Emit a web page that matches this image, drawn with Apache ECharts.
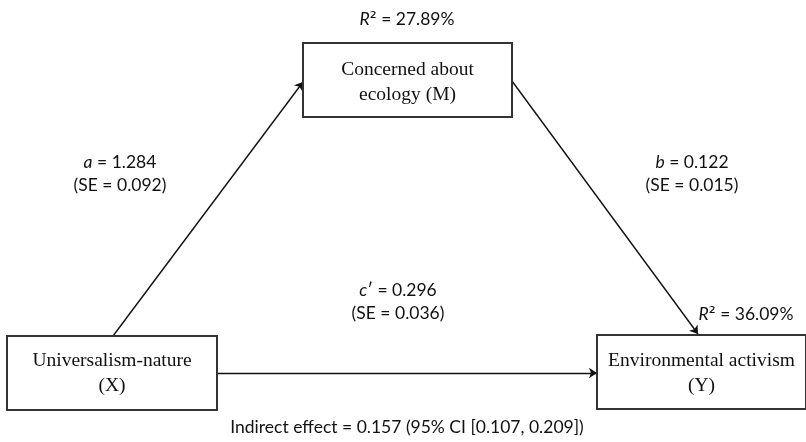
<!DOCTYPE html>
<html>
<head>
<meta charset="utf-8">
<script src="https://cdn.jsdelivr.net/npm/echarts@6/dist/echarts.min.js"></script>
<style>
  html, body { margin: 0; padding: 0; background: #fff; }
  #chart { width: 806px; height: 442px; }
</style>
</head>
<body>
<div id="chart"></div>
<script>
// Mediation model: Universalism-nature -> Concerned about ecology -> Environmental activism
const nodeLines = [
  ['Universalism-nature', '(X)'],
  ['Concerned about', 'ecology (M)'],
  ['Environmental activism', '(Y)']
];
const pathNames = ['a', 'b', 'c'];
const pathPrimes = ['', '', '′'];
const pathCoef = [1.284, 0.122, 0.296];
const pathSE = [0.092, 0.015, 0.036];
const rSquared = [27.89, 36.09];          // M, Y
const indirectEffect = 0.157;
const indirectCI = [0.107, 0.209];

// Diagram layout in plot units (x: 0..806, y: 0..442 downward)
const layout = {
  boxes: [[7, 336, 217, 410], [303, 43, 512, 117], [597, 335, 806, 409]],
  boxTextShift: [0, 2, 1],
  arrows: [
    [[113, 336], [303, 82]],   // a : X -> M
    [[512, 81], [698, 334]],   // b : M -> Y
    [[217, 373], [597, 373]]   // c': X -> Y
  ],
  pathLabelPos: [[120, 174], [692, 174], [398, 302]],
  rSquaredPos: [[407, 19], [746, 314]],
  indirectPos: [407, 427]
};

const sansFont = 'Lato';
const serifFont = 'Liberation Serif';
const sansSize = 17.5;
const fmt3 = v => v.toFixed(3);

// Box data: corner rectangle + text lines
const boxData = layout.boxes.map((b, i) => ({ value: b, lines: nodeLines[i], shift: layout.boxTextShift[i] }));

// Text label data
const textData = [];
pathNames.forEach((n, i) => {
  textData.push({
    value: layout.pathLabelPos[i],
    text: '{i|' + n + '}' + pathPrimes[i] + ' = ' + fmt3(pathCoef[i]) + '\n(SE = ' + fmt3(pathSE[i]) + ')'
  });
});
rSquared.forEach((r, i) => {
  textData.push({ value: layout.rSquaredPos[i], text: '{i|R}{s|²} = ' + r.toFixed(2) + '%' });
});
textData.push({
  value: layout.indirectPos,
  text: 'Indirect effect = ' + fmt3(indirectEffect) + ' (95% CI [' + fmt3(indirectCI[0]) + ', ' + fmt3(indirectCI[1]) + '])'
});

const chart = echarts.init(document.getElementById('chart'), null, { renderer: 'canvas' });
chart.setOption({
  backgroundColor: '#ffffff',
  animation: false,
  grid: { left: 0, right: 0, top: 0, bottom: 0 },
  xAxis: { type: 'value', min: 0, max: 806, show: false },
  yAxis: { type: 'value', min: 0, max: 442, inverse: true, show: false },
  series: [
    {
      type: 'lines',
      coordinateSystem: 'cartesian2d',
      symbol: ['none', 'arrow'],
      symbolSize: [0, 8],
      lineStyle: { color: '#111', width: 1.4, opacity: 1 },
      data: layout.arrows.map(c => ({ coords: c })),
      z: 2
    },
    {
      type: 'custom',
      coordinateSystem: 'cartesian2d',
      data: boxData,
      encode: { x: [0, 2], y: [1, 3] },
      renderItem: function (params, api) {
        const d = boxData[params.dataIndex];
        const p0 = api.coord([d.value[0], d.value[1]]);
        const p1 = api.coord([d.value[2], d.value[3]]);
        const cx = (p0[0] + p1[0]) / 2;
        const cy = (p0[1] + p1[1]) / 2 + d.shift;
        return {
          type: 'group',
          children: [
            {
              type: 'rect',
              shape: { x: p0[0], y: p0[1], width: p1[0] - p0[0], height: p1[1] - p0[1] },
              style: { fill: '#fff', stroke: '#333', lineWidth: 2 }
            },
            {
              type: 'text',
              style: {
                x: cx, y: cy,
                text: d.lines.join('\n'),
                font: '19.5px "' + serifFont + '"',
                fill: '#111',
                align: 'center',
                verticalAlign: 'middle',
                lineHeight: 25
              }
            }
          ]
        };
      },
      z: 3
    },
    {
      type: 'custom',
      coordinateSystem: 'cartesian2d',
      data: textData,
      renderItem: function (params, api) {
        const d = textData[params.dataIndex];
        const p = api.coord(d.value);
        return {
          type: 'text',
          style: {
            x: p[0], y: p[1],
            text: d.text,
            fontFamily: sansFont,
            fontSize: sansSize,
            fill: '#111',
            align: 'center',
            verticalAlign: 'middle',
            lineHeight: 23,
            rich: {
              i: { fontFamily: sansFont, fontSize: sansSize, fontStyle: 'italic', fill: '#111', lineHeight: 23 },
              s: { fontFamily: 'DejaVu Sans', fontSize: sansSize, fill: '#111', lineHeight: 23 }
            }
          }
        };
      },
      z: 4
    }
  ]
});
</script>
</body>
</html>
